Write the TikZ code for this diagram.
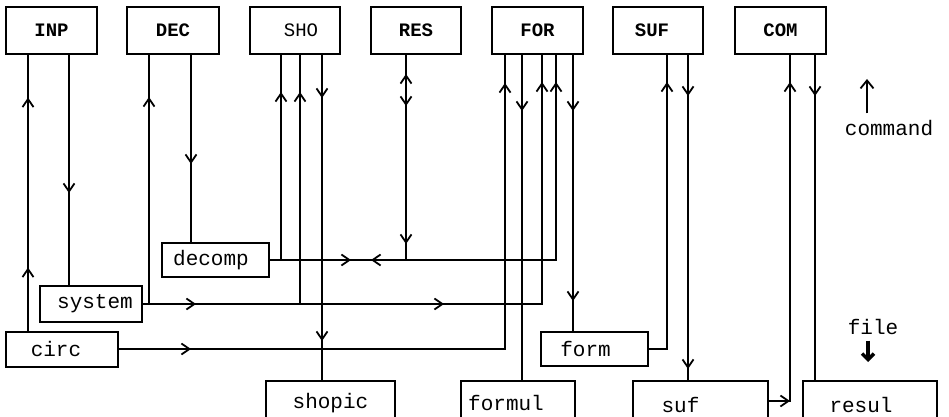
\documentclass[tikz,border=0pt]{standalone}
\usepackage{fontspec}
\setmonofont{Liberation Mono}
\usetikzlibrary{arrows.meta,decorations.markings}
\tikzset{
  bb/.tip={Straight Barb[length=8pt,width=11pt]},
  topbox/.style={draw, line width=2pt, minimum height=47pt, inner sep=0pt,
    font=\fontsize{19}{19}\selectfont\ttfamily\bfseries},
  filebox/.style={draw, line width=2pt, inner sep=0pt},
  lab/.style={font=\fontsize{21}{21}\selectfont\ttfamily, inner sep=0pt},
  marks/.style={postaction={decorate,decoration={markings,#1}}},
}
\begin{document}
\begin{tikzpicture}[x=1pt,y=-1pt,line width=1.8pt]
\useasboundingbox (0,0) rectangle (949,417);
\clip (0,0) rectangle (949,417);
% top boxes
\node[topbox, minimum width=91pt] (INP) at (51.5,30.5) {INP};
\node[topbox, minimum width=92pt] (DEC) at (173,30.5) {DEC};
\node[topbox, minimum width=90pt, label={[xshift=6pt,font=\fontsize{19}{19}\selectfont\ttfamily]center:SHO}] (SHO) at (295,30.5) {};
\node[topbox, minimum width=90pt] (RES) at (416,30.5) {RES};
\node[topbox, minimum width=91pt] (FOR) at (537.5,30.5) {FOR};
\node[topbox, minimum width=90pt, label={[xshift=-6pt,font=\fontsize{19}{19}\selectfont\ttfamily\bfseries]center:SUF}] (SUF) at (658,30.5) {};
\node[topbox, minimum width=91pt] (COM) at (780.5,30.5) {COM};
% file boxes
\node[filebox, minimum width=107pt, minimum height=34pt, label={[lab,xshift=-4.5pt]center:decomp}] (decomp) at (215.5,260) {};
\node[filebox, minimum width=102pt, minimum height=36pt, label={[lab,xshift=4pt]center:system}] (system) at (91,304) {};
\node[filebox, minimum width=112pt, minimum height=35pt, label={[lab,xshift=-6pt]center:circ}] (circ) at (62,349) {};
\node[filebox, minimum width=107pt, minimum height=34pt, label={[lab,xshift=-9pt]center:form}] (form) at (594.5,349) {};
\node[filebox, minimum width=129pt, minimum height=40pt, label={[lab,yshift=-2pt]center:shopic}] (shopic) at (330.5,401) {};
\node[filebox, minimum width=114pt, minimum height=40pt, label={[lab,xshift=-12pt,yshift=-2pt]center:formul}] (formul) at (518,401) {};
\node[filebox, minimum width=135pt, minimum height=40pt, label={[lab,xshift=-20pt,yshift=-4pt]center:suf}] (suf) at (700.5,401) {};
\node[filebox, minimum width=134pt, minimum height=40pt, label={[lab,xshift=-9pt,yshift=-4pt]center:resul}] (resul) at (870,401) {};
% columns
\coordinate (inpU) at (28,0);  \coordinate (inpD) at (69,0);
\coordinate (decU) at (149,0); \coordinate (decD) at (191,0);
\coordinate (shoA) at (281,0); \coordinate (shoB) at (300,0); \coordinate (shoC) at (322,0);
\coordinate (resL) at (406,0);
\coordinate (forA) at (505,0); \coordinate (forB) at (522,0); \coordinate (forC) at (542,0);
\coordinate (forD) at (556,0); \coordinate (forE) at (573,0);
\coordinate (sufA) at (667,0); \coordinate (sufB) at (688,0);
\coordinate (comA) at (790,0); \coordinate (comB) at (815,0);
% connectors
\draw[marks={mark=at position 63pt with {\arrow{bb}}, mark=at position 233pt with {\arrow{bb}}}]
  (circ.north -| inpU) -- (INP.south -| inpU);
\draw[marks={mark=at position 138pt with {\arrow{bb}}}]
  (INP.south -| inpD) -- (system.north -| inpD);
\draw[marks={mark=at position 109pt with {\arrow{bb}}}]
  (DEC.south -| decD) -- (decomp.north -| decD);
\draw[marks={mark=at position 53pt with {\arrow{bb}}, mark=at position 301pt with {\arrow{bb}}, mark=at position 621pt with {\arrow{bb}}}]
  (system.east) -- (system.east -| forC) -- (FOR.south -| forC);
\draw[marks={mark=at position 207pt with {\arrow{bb}}}]
  (system.east -| decU) -- (DEC.south -| decU);
\draw[marks={mark=at position 212pt with {\arrow{bb}}}]
  (system.east -| shoB) -- (SHO.south -| shoB);
\draw[marks={mark=at position 81pt with {\arrow{bb}}, mark=at position 101pt with {\arrowreversed{bb}}, mark=at position 464pt with {\arrow{bb}}}]
  (decomp.east) -- (decomp.east -| forD) -- (FOR.south -| forD);
\draw[marks={mark=at position 168pt with {\arrow{bb}}}]
  (decomp.east -| shoA) -- (SHO.south -| shoA);
\draw[marks={mark=at position 19pt with {\arrowreversed{bb}}, mark=at position 51pt with {\arrow{bb}}, mark=at position 189pt with {\arrow{bb}}}]
  (RES.south -| resL) -- (decomp.east -| resL);
\draw[marks={mark=at position 72pt with {\arrow{bb}}, mark=at position 652pt with {\arrow{bb}}}]
  (circ.east) -- (circ.east -| forA) -- (FOR.south -| forA);
\draw[marks={mark=at position 43pt with {\arrow{bb}}, mark=at position 286pt with {\arrow{bb}}}]
  (SHO.south -| shoC) -- (shopic.north -| shoC);
\draw[marks={mark=at position 56pt with {\arrow{bb}}}]
  (FOR.south -| forB) -- (formul.north -| forB);
\draw[marks={mark=at position 56pt with {\arrow{bb}}, mark=at position 246pt with {\arrow{bb}}}]
  (FOR.south -| forE) -- (form.north -| forE);
\draw[marks={mark=at position 285pt with {\arrow{bb}}}]
  (form.east) -- (form.east -| sufA) -- (SUF.south -| sufA);
\draw[marks={mark=at position 41pt with {\arrow{bb}}, mark=at position 314pt with {\arrow{bb}}}]
  (SUF.south -| sufB) -- (suf.north -| sufB);
\draw[marks={mark=at position 21pt with {\arrow{bb}}, mark=at position 340pt with {\arrow{bb}}}]
  (suf.east) -- (suf.east -| comA) -- (COM.south -| comA);
\draw[marks={mark=at position 41pt with {\arrow{bb}}}]
  (COM.south -| comB) -- (resul.north -| comB);
% legend
\node[lab] (cmd) at (889,128) {command};
\coordinate (cmdTip) at (867,79);
\draw[-{Straight Barb[length=8pt,width=13pt]}] ([yshift=6pt]cmd.north -| cmdTip) -- (cmdTip);
\node[lab] (file) at (873,327) {file};
\coordinate (fileTip) at (868,362);
\draw[line width=3.5pt,-{Straight Barb[length=6pt,width=12pt]}] ([yshift=-5pt]file.south -| fileTip) -- (fileTip);
\end{tikzpicture}
\end{document}
